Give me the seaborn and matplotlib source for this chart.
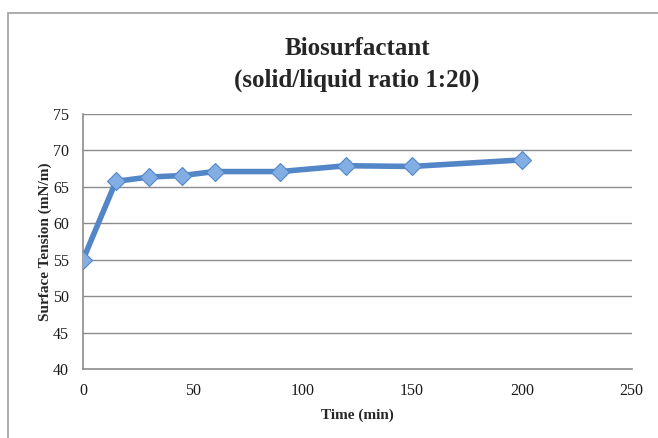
import matplotlib
matplotlib.use("Agg")
import matplotlib.pyplot as plt
from matplotlib.patches import Rectangle
import pandas as pd
import seaborn as sns

time_min = [0, 15, 30, 45, 60, 90, 120, 150, 200]
surface_tension = [55.0, 65.75, 66.35, 66.55, 67.1, 67.1, 67.9, 67.8, 68.7]
x_ticks = [0, 50, 100, 150, 200, 250]
y_ticks = [40, 45, 50, 55, 60, 65, 70, 75]

title_text = "Biosurfactant\n(solid/liquid ratio 1:20)"
x_label = "Time (min)"
y_label = "Surface Tension (mN/m)"

df = pd.DataFrame({"Time": time_min, "Tension": surface_tension})

sns.set_theme(style="white")
plt.rcParams["font.family"] = ["Liberation Serif", "DejaVu Serif"]

fig = plt.figure(figsize=(6.58, 4.38), dpi=100)
ax = fig.add_axes([83 / 658, 1 - 369 / 438, (631.5 - 83) / 658, (369 - 114) / 438])

# outer chart frame (Excel style, cut off at right and bottom)
fig.patches.append(Rectangle((8 / 658, -0.1), 1.2, 1.1 - 13 / 438, transform=fig.transFigure,
                             fill=False, edgecolor="#a0a0a0", linewidth=1.2))

for yv in y_ticks[1:]:
    ax.axhline(yv, color="#8c8c8c", linewidth=1.0, zorder=0)

sns.lineplot(data=df, x="Time", y="Tension", ax=ax, color="#5286c6", linewidth=4.0,
             marker="D", markersize=9, markerfacecolor="#82aee3", markeredgecolor="#5286c6",
             markeredgewidth=0.8, zorder=3)

ax.set_xlim(0, 250)
ax.set_ylim(40, 75)
ax.set_xticks(x_ticks)
ax.set_yticks(y_ticks)
ax.tick_params(axis="both", length=0, labelsize=11.5, colors="#1a1a1a")
ax.tick_params(axis="x", pad=10)
ax.tick_params(axis="y", pad=10)

for side in ["top", "right"]:
    ax.spines[side].set_visible(False)
for side in ["left", "bottom"]:
    ax.spines[side].set_color("#8c8c8c")
    ax.spines[side].set_linewidth(1.2)

ax.set_xlabel(x_label, fontsize=11, fontweight="bold", labelpad=7)
ax.set_ylabel(y_label, fontsize=11, fontweight="bold", labelpad=1)
ax.set_title(title_text, fontsize=18, fontweight="bold", pad=20, linespacing=1.45)

plt.savefig("out.png", dpi=100)
plt.close(fig)
